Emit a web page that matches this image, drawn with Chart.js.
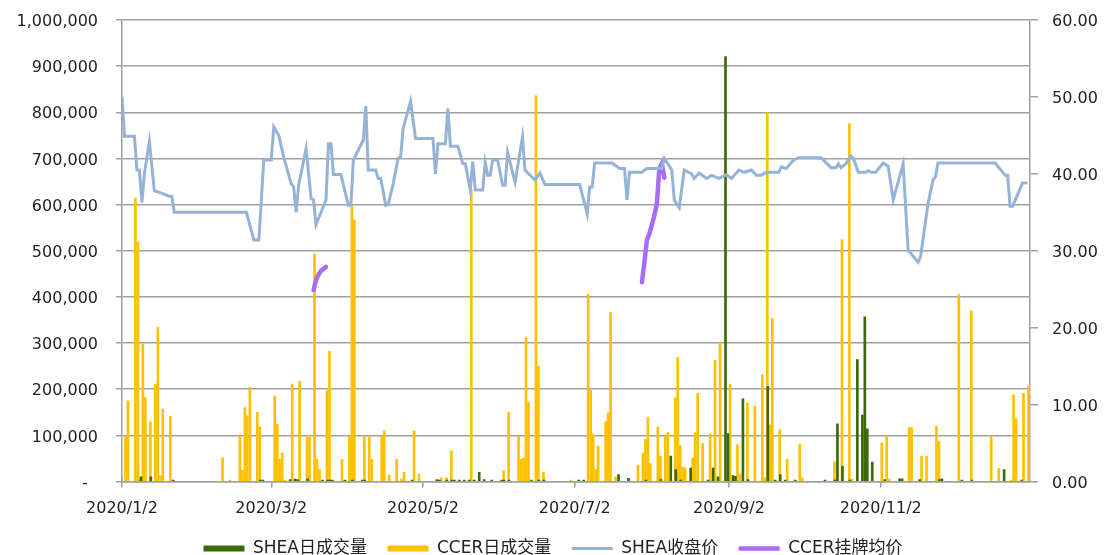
<!DOCTYPE html>
<html>
<head>
<meta charset="utf-8">
<script src="https://cdn.jsdelivr.net/npm/chart.js@4.4.0/dist/chart.umd.min.js"></script>
<style>
html, body { margin: 0; padding: 0; background: #fff; overflow: hidden; }
#box { width: 1106px; height: 567px; position: relative; }
</style>
</head>
<body>
<div id="box"><canvas id="report"></canvas></div>
<script>
// x values are days counted from 2020/1/2
const tickDays = [0, 60, 121, 182, 244, 305];
const tickLabels = ['2020/1/2', '2020/3/2', '2020/5/2', '2020/7/2', '2020/9/2', '2020/11/2'];

// SHEA日成交量 [day, volume]
const sheaVolume = [
    [0, 10000], [8, 10000], [12, 10000], [21, 3000], [56, 3000], [57, 3000], [68, 4000], [70, 5000],
    [71, 4000], [75, 6000], [81, 3000], [83, 3000], [84, 3000], [85, 3000], [90, 3000], [93, 3000],
    [97, 3000], [98, 3000], [117, 3000], [127, 4000], [128, 3000], [131, 3000], [133, 3000], [134, 3000],
    [136, 3000], [138, 3000], [140, 3000], [142, 3000], [144, 20000], [146, 4000], [149, 3000], [153, 3000],
    [154, 3000], [156, 3000], [165, 3000], [168, 3000], [170, 3000], [184, 3000], [186, 3000], [200, 15000],
    [204, 7000], [211, 3000], [217, 5000], [221, 55000], [223, 26000], [225, 3000], [229, 29000], [236, 3000],
    [238, 29000], [240, 10000], [243, 921000], [244, 104000], [246, 13000], [247, 11000], [250, 179000], [252, 4000],
    [260, 206000], [263, 3000], [265, 15000], [267, 3000], [271, 3000], [283, 3000], [287, 3000], [288, 125000],
    [290, 33000], [293, 3000], [296, 264000], [298, 144000], [299, 357000], [300, 114000], [302, 42000], [307, 4000],
    [313, 6000], [314, 6000], [321, 4000], [329, 4000], [330, 6000], [338, 3000], [342, 3000], [355, 26000],
    [362, 3000]
];

// CCER日成交量 [day, volume]
const ccerVolume = [
    [1, 97000], [2, 175000], [5, 614000], [6, 519000], [8, 298000], [9, 182000], [11, 130000], [13, 211000],
    [14, 334000], [15, 13000], [16, 157000], [19, 141000], [40, 52000], [43, 3000], [47, 99000], [48, 24000],
    [49, 160000], [50, 143000], [51, 204000], [54, 150000], [55, 118000], [61, 185000], [62, 124000], [63, 48000],
    [64, 62000], [65, 3000], [68, 211000], [71, 217000], [74, 95000], [75, 100000], [77, 493000], [78, 48000],
    [79, 26000], [82, 197000], [83, 282000], [88, 48000], [91, 98000], [92, 598000], [93, 567000], [97, 97000],
    [99, 97000], [100, 48000], [104, 98000], [105, 110000], [107, 14000], [110, 48000], [112, 5000], [113, 20000],
    [117, 110000], [119, 16000], [128, 8000], [130, 8000], [132, 66000], [140, 632000], [153, 23000], [155, 150000],
    [159, 98000], [160, 48000], [161, 51000], [162, 312000], [163, 172000], [166, 836000], [167, 250000], [169, 20000],
    [180, 3000], [187, 406000], [188, 198000], [189, 103000], [190, 26000], [191, 76000], [194, 130000], [195, 149000],
    [196, 366000], [198, 10000], [207, 35000], [209, 61000], [210, 91000], [211, 139000], [212, 39000], [215, 118000],
    [216, 55000], [218, 98000], [219, 106000], [222, 182000], [223, 269000], [224, 78000], [225, 31000], [226, 29000],
    [229, 51000], [230, 106000], [231, 191000], [233, 82000], [236, 103000], [238, 263000], [240, 300000], [244, 211000],
    [247, 80000], [248, 16000], [251, 170000], [254, 163000], [257, 231000], [258, 8000], [259, 799000], [260, 123000],
    [261, 354000], [264, 112000], [267, 48000], [272, 81000], [273, 8000], [286, 43000], [287, 5000], [289, 524000],
    [292, 775000], [293, 5000], [305, 84000], [307, 97000], [308, 5000], [316, 117000], [317, 117000], [321, 55000],
    [323, 55000], [327, 120000], [328, 87000], [336, 405000], [341, 370000], [349, 97000], [352, 28000], [357, 3000],
    [358, 188000], [359, 136000], [362, 191000], [364, 207000]
];

// SHEA收盘价 [day, price]
const sheaClose = [
    [0, 50.0], [1, 44.9], [5, 44.9], [6, 40.5], [7, 40.5], [8, 36.3], [9, 40.0], [11, 44.2], [13, 37.8], [15, 37.6],
    [19, 37.1], [20, 37.1], [21, 35.0], [50, 35.0], [53, 31.4], [55, 31.4], [56, 36.6], [57, 41.8], [60, 41.8], [61, 46.1],
    [63, 45.0], [65, 42.2], [68, 38.7], [69, 38.3], [70, 35.0], [71, 38.5], [74, 43.3], [76, 36.8], [77, 36.6], [78, 33.4],
    [82, 36.6], [83, 43.9], [84, 43.9], [85, 39.9], [88, 39.9], [91, 35.9], [92, 35.9], [93, 41.8], [97, 44.4], [98, 48.8],
    [99, 40.5], [102, 40.5], [103, 39.4], [104, 39.4], [106, 35.9], [107, 36.0], [109, 38.7], [111, 42.0], [112, 42.2], [113, 45.9],
    [116, 49.4], [118, 44.6], [125, 44.6], [126, 40.0], [127, 43.9], [130, 43.9], [131, 48.5], [132, 43.6], [135, 43.6], [137, 41.3],
    [138, 41.3], [140, 37.9], [141, 41.6], [142, 37.9], [145, 37.9], [146, 41.5], [147, 39.8], [148, 39.8], [149, 41.8], [151, 41.8],
    [153, 38.5], [154, 38.5], [155, 42.8], [158, 38.9], [161, 44.8], [162, 40.5], [166, 39.2], [168, 40.1], [170, 38.6], [184, 38.6],
    [187, 34.8], [188, 38.3], [189, 38.3], [190, 41.4], [197, 41.4], [200, 40.7], [202, 40.7], [203, 36.6], [204, 40.2], [209, 40.2],
    [211, 40.7], [217, 40.7], [218, 42.0], [221, 40.5], [222, 36.6], [224, 35.6], [226, 40.5], [229, 40.0], [230, 39.4], [232, 40.1],
    [235, 39.4], [237, 39.8], [240, 39.4], [243, 39.9], [245, 39.4], [248, 40.5], [250, 40.2], [253, 40.5], [255, 39.8], [257, 39.8],
    [259, 40.2], [264, 40.2], [265, 40.9], [267, 40.7], [270, 41.8], [272, 42.1], [281, 42.1], [285, 40.8], [287, 40.8], [288, 41.3],
    [289, 40.8], [291, 41.3], [293, 42.3], [294, 42.0], [296, 40.2], [299, 40.2], [300, 40.4], [301, 40.2], [303, 40.2], [306, 41.4],
    [308, 41.0], [310, 36.6], [314, 41.3], [316, 30.1], [320, 28.5], [321, 29.2], [324, 36.1], [326, 39.2], [327, 39.6], [328, 41.4],
    [351, 41.4], [355, 39.8], [356, 39.8], [357, 35.8], [358, 35.8], [362, 38.8], [364, 38.8]
];

// CCER挂牌均价 [day, price], null = no listing
const ccerAvg = [
    [77, 24.9], [78, 26.2], [79, 26.9], [80, 27.4], [82, 27.9], [150, null],
    [209, 25.9], [210, 28.5], [211, 31.4], [212, 32.2], [214, 34.6], [215, 36.1], [216, 40.7], [217, 41.3], [218, 39.5]
];

const toXY = pairs => pairs.map(p => ({ x: p[0], y: p[1] }));

const fontFamily = '"DejaVu Sans", "Noto Sans CJK SC", sans-serif';
Chart.defaults.font.family = fontFamily;
Chart.defaults.font.size = 16;
Chart.defaults.color = '#222';

const gridColor = '#A0A0A0';

// fix axis box sizes so the plot area sits where the original has it
const fitY = width => function (axis) {
    axis.width = width;
    axis.paddingTop = 8;
    axis.paddingBottom = 8;
};

const ctx = document.getElementById('report').getContext('2d');
new Chart(ctx, {
    type: 'bar',
    data: {
        datasets: [
            {
                label: 'SHEA日成交量',
                data: toXY(sheaVolume),
                backgroundColor: '#3A6A0C',
                barThickness: 2,
                yAxisID: 'y',
                order: 1,
                pointStyle: 'rect'
            },
            {
                label: 'CCER日成交量',
                data: toXY(ccerVolume),
                backgroundColor: '#FFC000',
                barThickness: 2,
                yAxisID: 'y',
                order: 1,
                pointStyle: 'rect'
            },
            {
                type: 'line',
                label: 'SHEA收盘价',
                data: toXY(sheaClose),
                borderColor: '#95B3D7',
                backgroundColor: '#95B3D7',
                borderWidth: 3,
                pointRadius: 0,
                tension: 0,
                yAxisID: 'y1',
                order: 0,
                pointStyle: 'line'
            },
            {
                type: 'line',
                label: 'CCER挂牌均价',
                data: toXY(ccerAvg),
                borderColor: '#A66EF8',
                backgroundColor: '#A66EF8',
                borderWidth: 4.5,
                borderCapStyle: 'round',
                pointRadius: 0,
                tension: 0,
                spanGaps: false,
                yAxisID: 'y1',
                order: 0,
                pointStyle: 'line'
            }
        ]
    },
    options: {
        responsive: true,
        maintainAspectRatio: false,
        animation: false,
        layout: { padding: { top: 20, left: 0, right: 0, bottom: 0 } },
        plugins: {
            legend: {
                position: 'bottom',
                labels: {
                    usePointStyle: true,
                    pointStyleWidth: 41,
                    boxHeight: 6,
                    padding: 20.5,
                    font: { size: 17 },
                    sort: (a, b) => a.datasetIndex - b.datasetIndex
                }
            },
            tooltip: { enabled: false }
        },
        scales: {
            x: {
                type: 'linear',
                min: 0,
                max: 365,
                offset: false,
                grid: { drawOnChartArea: false, drawTicks: true, tickLength: 6, color: gridColor, lineWidth: 1.5, offset: false },
                border: { color: gridColor, width: 1.5 },
                ticks: {
                    autoSkip: false,
                    maxRotation: 0,
                    padding: 12,
                    callback: function (value) {
                        const i = tickDays.indexOf(value);
                        return i >= 0 ? tickLabels[i] : '';
                    }
                },
                afterBuildTicks: function (axis) {
                    axis.ticks = tickDays.map(v => ({ value: v }));
                },
                afterFit: function (axis) {
                    axis.height = 38;
                }
            },
            y: {
                position: 'left',
                min: 0,
                max: 1000000,
                grid: { color: gridColor, lineWidth: 1.5, tickLength: 6 },
                border: { color: gridColor, width: 1.5 },
                ticks: {
                    stepSize: 100000,
                    padding: 18,
                    labelOffset: 2,
                    callback: v => v === 0 ? '-  ' : v.toLocaleString('en-US')
                },
                afterFit: fitY(122)
            },
            y1: {
                position: 'right',
                min: 0,
                max: 60,
                grid: { drawOnChartArea: false, color: gridColor, lineWidth: 1.5, tickLength: 8 },
                border: { color: gridColor, width: 1.5 },
                ticks: {
                    stepSize: 10,
                    padding: 14,
                    labelOffset: 2,
                    callback: v => v.toFixed(2)
                },
                afterFit: fitY(76)
            }
        }
    }
});
</script>
</body>
</html>
